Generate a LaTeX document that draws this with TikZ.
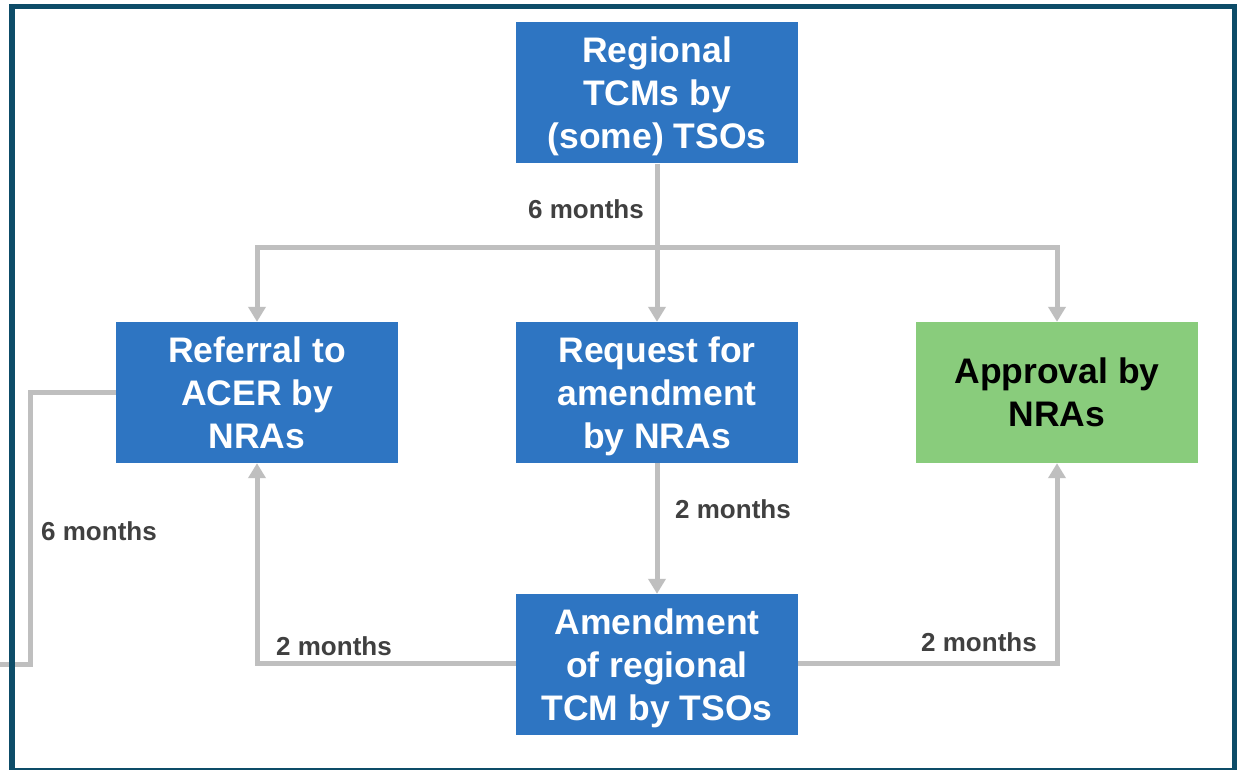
\documentclass[tikz,border=0pt]{standalone}
\usepackage{fontspec}
\setmainfont{Liberation Sans}
\usetikzlibrary{arrows.meta}
\definecolor{boxblue}{RGB}{46,117,194}
\definecolor{boxgreen}{RGB}{137,204,124}
\definecolor{linegrey}{RGB}{191,191,191}
\definecolor{labelgrey}{RGB}{64,64,64}
\definecolor{framecol}{RGB}{13,76,104}
\begin{document}
\begin{tikzpicture}[x=1pt,y=-1pt,
  stepbox/.style={rectangle, fill=boxblue, text=white, font=\fontsize{35.5}{43}\selectfont\bfseries,
    minimum width=282pt, minimum height=141pt, align=center, inner sep=0pt, text depth=0pt},
  greenbox/.style={stepbox, fill=boxgreen, text=black},
  conn/.style={draw=linegrey, line width=5pt},
  arr/.style={conn, -{Triangle[width=17pt,length=15pt]}},
  lbl/.style={text=labelgrey, font=\fontsize{26}{30}\selectfont\bfseries, inner sep=0pt}]
\useasboundingbox (0,0) rectangle (1237,770);
\fill[white] (0,0) rectangle (1237,770);
\begin{scope}
\clip (0,0) rectangle (1237,770);
% nodes
\node[stepbox] (T) at (657,93) {Regional\\TCMs by\\(some) TSOs};
\node[stepbox] (L) at (257,392.5) {Referral to\\ACER by\\NRAs};
\node[stepbox] (M) at (657,392.5) {Request for\\amendment\\by NRAs};
\node[greenbox] (R) at (1057,392.5) {Approval by\\NRAs};
\node[stepbox] (B) at (657,664.5) {Amendment\\of regional\\TCM by TSOs};
\coordinate (split) at (657,248);
\coordinate (loopA) at (30,392.5);
\coordinate (loopB) at (30,664);
\coordinate (loopEnd) at (-5,664);
% connectors
\draw[arr] (T.south) -- (M.north);
\draw[arr] (split) -| (L.north);
\draw[arr] (split) -| (R.north);
\draw[arr] (M.south) -- (B.north);
\draw[arr] ([yshift=1.5pt]B.west) -| (L.south);
\draw[arr] ([yshift=1.5pt]B.east) -| (R.south);
\draw[conn] (L.west) -- (loopA) -- (loopB) -- (loopEnd);
% labels
\node[lbl] (l1) at (586,209) {6 months};
\node[lbl] (l2) at (733,509) {2 months};
\node[lbl] (l3) at (99,531) {6 months};
\node[lbl] (l4) at (334,646) {2 months};
\node[lbl] (l5) at (979,642) {2 months};
% frame
\draw[framecol, line width=5.5pt] (12,6.5) rectangle (1235,771);
\end{scope}
\end{tikzpicture}
\end{document}
